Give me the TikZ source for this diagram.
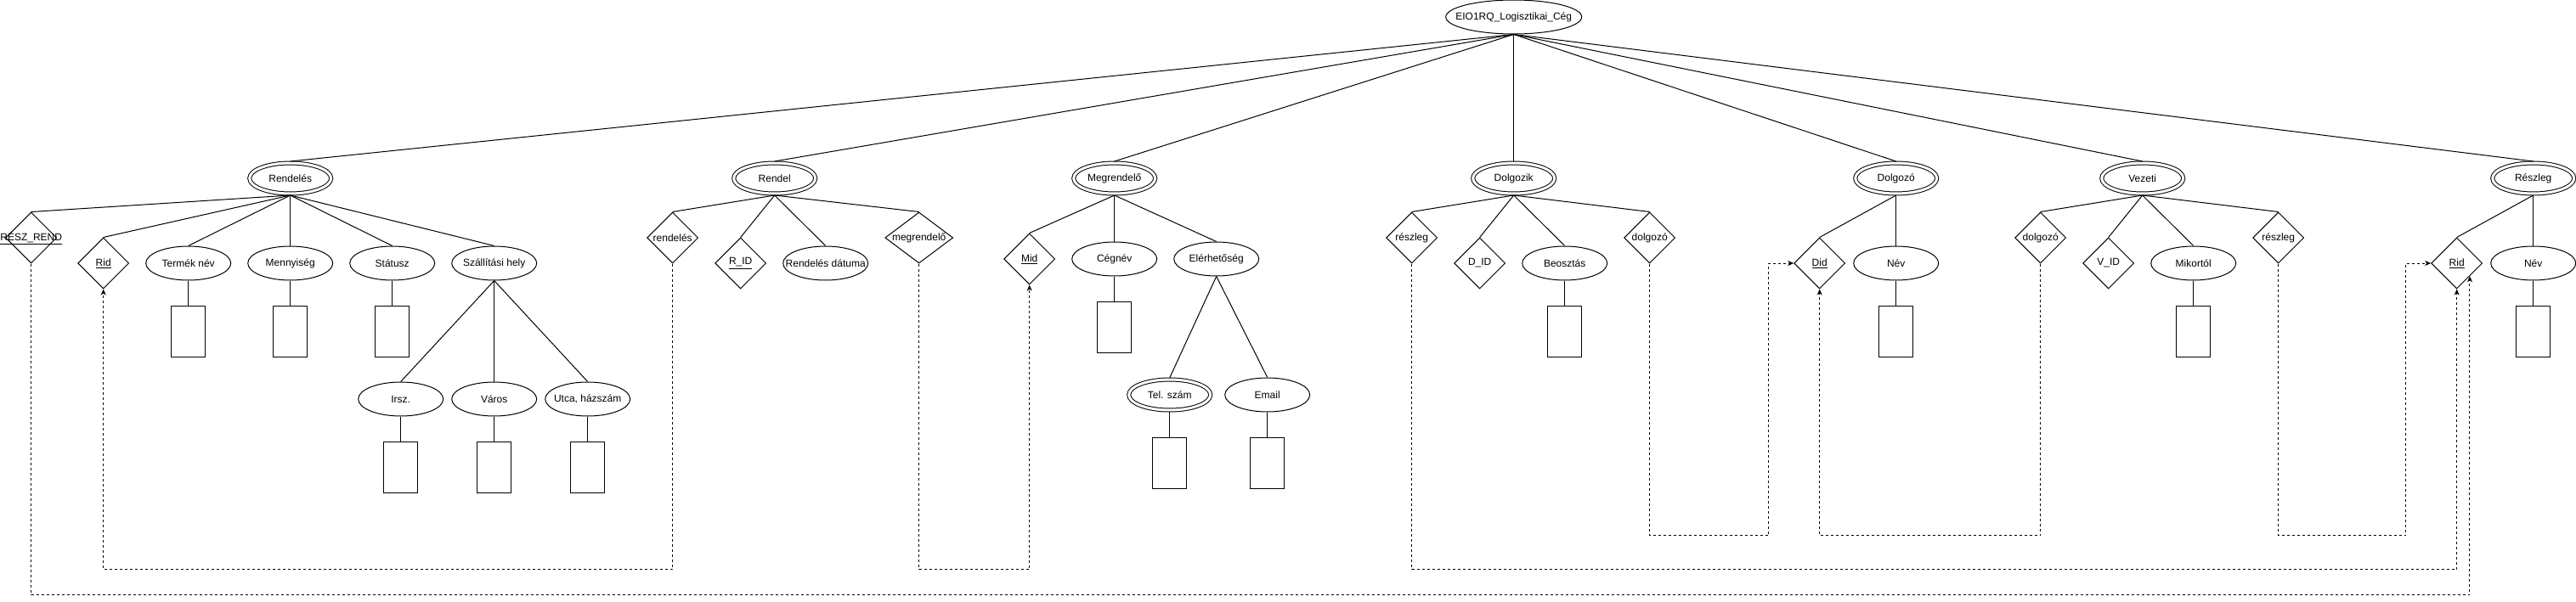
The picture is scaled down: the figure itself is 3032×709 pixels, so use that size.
\documentclass[tikz,border=0pt]{standalone}
\usepackage{fontspec}
\setmainfont{Liberation Sans}
\usepackage{tikz}
\usetikzlibrary{shapes,arrows.meta}
\newcommand{\nowidth}[1]{\makebox[0pt]{#1}}
\tikzstyle{er}=[x=1pt, y=-1pt, line width=1pt, font=\fontsize{12}{14}\selectfont]
\tikzstyle{entity}=[ellipse, draw, double, double distance=3pt, minimum width=96pt, minimum height=36pt, inner sep=0pt, outer sep=2pt]
\tikzstyle{attrib}=[ellipse, draw, fill=white, minimum width=100pt, minimum height=40pt, inner sep=0pt]
\tikzstyle{keyrel}=[diamond, draw, fill=white, minimum width=60pt, minimum height=60pt, inner sep=0pt]
\tikzstyle{valbox}=[rectangle, draw, minimum width=40pt, minimum height=60pt, inner sep=0pt]
\tikzstyle{fkline}=[dash pattern=on 3pt off 3pt, -{Stealth[length=7pt, width=6pt, inset=2pt]}]

\begin{document}
\begin{tikzpicture}[er]
	\useasboundingbox (0,0) rectangle (3032,709);
	\node[attrib, minimum width=160pt] (root) at (1781.7,20) {\nowidth{EIO1RQ\_Logisztikai\_Cég}};
	% entities
	\node[entity] (rendeles) at (341.7,210) {Rendelés};
	\node[entity] (rendel) at (911.7,210) {Rendel};
	\node[entity] (megrendelo) at (1311.7,210) {Megrendelő};
	\node[entity] (dolgozik) at (1781.7,210) {Dolgozik};
	\node[entity] (dolgozo) at (2231.7,210) {Dolgozó};
	\node[entity] (vezeti) at (2521.7,210) {Vezeti};
	\node[entity] (reszleg) at (2981.7,210) {Részleg};
	\foreach \e in {rendeles,rendel,megrendelo,dolgozik,dolgozo,vezeti,reszleg}
		\draw (root.south) -- (\e.north);
	% Rendeles
	\node[keyrel] (reszrend) at (36.7,280) {\nowidth{\underline{RÉSZ\_REND}}};
	\node[keyrel] (rid) at (121.7,310) {\underline{Rid}};
	\node[attrib] (termek) at (221.7,310) {Termék név};
	\node[attrib] (menny) at (341.7,310) {Mennyiség};
	\node[attrib] (statusz) at (461.7,310) {Státusz};
	\node[attrib] (szallit) at (581.7,310) {\nowidth{Szállítási hely}};
	\node[attrib] (irsz) at (471.7,470) {Irsz.};
	\node[attrib] (varos) at (581.7,470) {Város};
	\node[attrib] (utca) at (691.7,470) {\nowidth{Utca, házszám}};
	\node[valbox] (termekv) at (221.7,390) {};
	\node[valbox] (mennyv) at (341.7,390) {};
	\node[valbox] (statuszv) at (461.7,390) {};
	\node[valbox] (irszv) at (471.7,550) {};
	\node[valbox] (varosv) at (581.7,550) {};
	\node[valbox] (utcav) at (691.7,550) {};
	\foreach \c in {reszrend,rid,termek,menny,statusz,szallit}
		\draw (rendeles.south) -- (\c.north);
	\foreach \c in {irsz,varos,utca}
		\draw (szallit.south) -- (\c.north);
	\foreach \c in {termek,menny,statusz,irsz,varos,utca}
		\draw (\c.south) -- (\c v.north);
	% Rendel
	\node[keyrel] (rrendeles) at (791.7,280) {rendelés};
	\node[keyrel] (rid2) at (871.7,310) {\underline{R\_ID}};
	\node[attrib] (rdatum) at (971.7,310) {\nowidth{Rendelés dátuma}};
	\node[keyrel, minimum width=80pt] (rmegr) at (1081.7,280) {\nowidth{megrendelő}};
	\foreach \c in {rrendeles,rid2,rdatum,rmegr}
		\draw (rendel.south) -- (\c.north);
	% Megrendelo
	\node[keyrel] (mid) at (1211.7,305) {\underline{Mid}};
	\node[attrib] (cegnev) at (1311.7,305) {Cégnév};
	\node[attrib] (elerh) at (1431.7,305) {Elérhetőség};
	\node[entity] (telszam) at (1376.7,465) {Tel. szám};
	\node[attrib] (email) at (1491.7,465) {Email};
	\node[valbox] (cegnevv) at (1311.7,385) {};
	\node[valbox] (telszamv) at (1376.7,545) {};
	\node[valbox] (emailv) at (1491.7,545) {};
	\foreach \c in {mid,cegnev,elerh}
		\draw (megrendelo.south) -- (\c.north);
	\foreach \c in {telszam,email}
		\draw (elerh.south) -- (\c.north);
	\foreach \c in {cegnev,telszam,email}
		\draw (\c.south) -- (\c v.north);
	% Dolgozik
	\node[keyrel] (dreszleg) at (1661.7,280) {részleg};
	\node[keyrel] (did2) at (1741.7,310) {D\_ID};
	\node[attrib] (beoszt) at (1841.7,310) {Beosztás};
	\node[keyrel] (ddolgozo) at (1941.7,280) {dolgozó};
	\node[valbox] (beosztv) at (1841.7,390) {};
	\foreach \c in {dreszleg,did2,beoszt,ddolgozo}
		\draw (dolgozik.south) -- (\c.north);
	\draw (beoszt.south) -- (beosztv.north);
	% Dolgozo
	\node[keyrel] (did) at (2141.7,310) {\underline{Did}};
	\node[attrib] (dnev) at (2231.7,310) {Név};
	\node[valbox] (dnevv) at (2231.7,390) {};
	\draw (dolgozo.south) -- (did.north);
	\draw (dolgozo.south) -- (dnev.north);
	\draw (dnev.south) -- (dnevv.north);
	% Vezeti
	\node[keyrel] (vdolgozo) at (2401.7,280) {dolgozó};
	\node[keyrel] (vid) at (2481.7,310) {V\_ID};
	\node[attrib] (mikortol) at (2581.7,310) {Mikortól};
	\node[keyrel] (vreszleg) at (2681.7,280) {részleg};
	\node[valbox] (mikortolv) at (2581.7,390) {};
	\foreach \c in {vdolgozo,vid,mikortol,vreszleg}
		\draw (vezeti.south) -- (\c.north);
	\draw (mikortol.south) -- (mikortolv.north);
	% Reszleg
	\node[keyrel] (rrid) at (2891.7,310) {\underline{Rid}};
	\node[attrib] (rnev) at (2981.7,310) {Név};
	\node[valbox] (rnevv) at (2981.7,390) {};
	\draw (reszleg.south) -- (rrid.north);
	\draw (reszleg.south) -- (rnev.north);
	\draw (rnev.south) -- (rnevv.north);
	% foreign keys
	\draw[fkline] (reszrend.south) -- ++(0,390) -| (rrid.south east);
	\draw[fkline] (rrendeles.south) -- ++(0,360) -| (rid.south);
	\draw[fkline] (rmegr.south) -- ++(0,360) -| (mid.south);
	\draw[fkline] (dreszleg.south) -- ++(0,360) -| (rrid.south);
	\draw[fkline] (ddolgozo.south) -- ++(0,320) -- ++(140,0) |- (did.west);
	\draw[fkline] (vdolgozo.south) -- ++(0,320) -| (did.south);
	\draw[fkline] (vreszleg.south) -- ++(0,320) -- ++(150,0) |- (rrid.west);
\end{tikzpicture}
\end{document}
